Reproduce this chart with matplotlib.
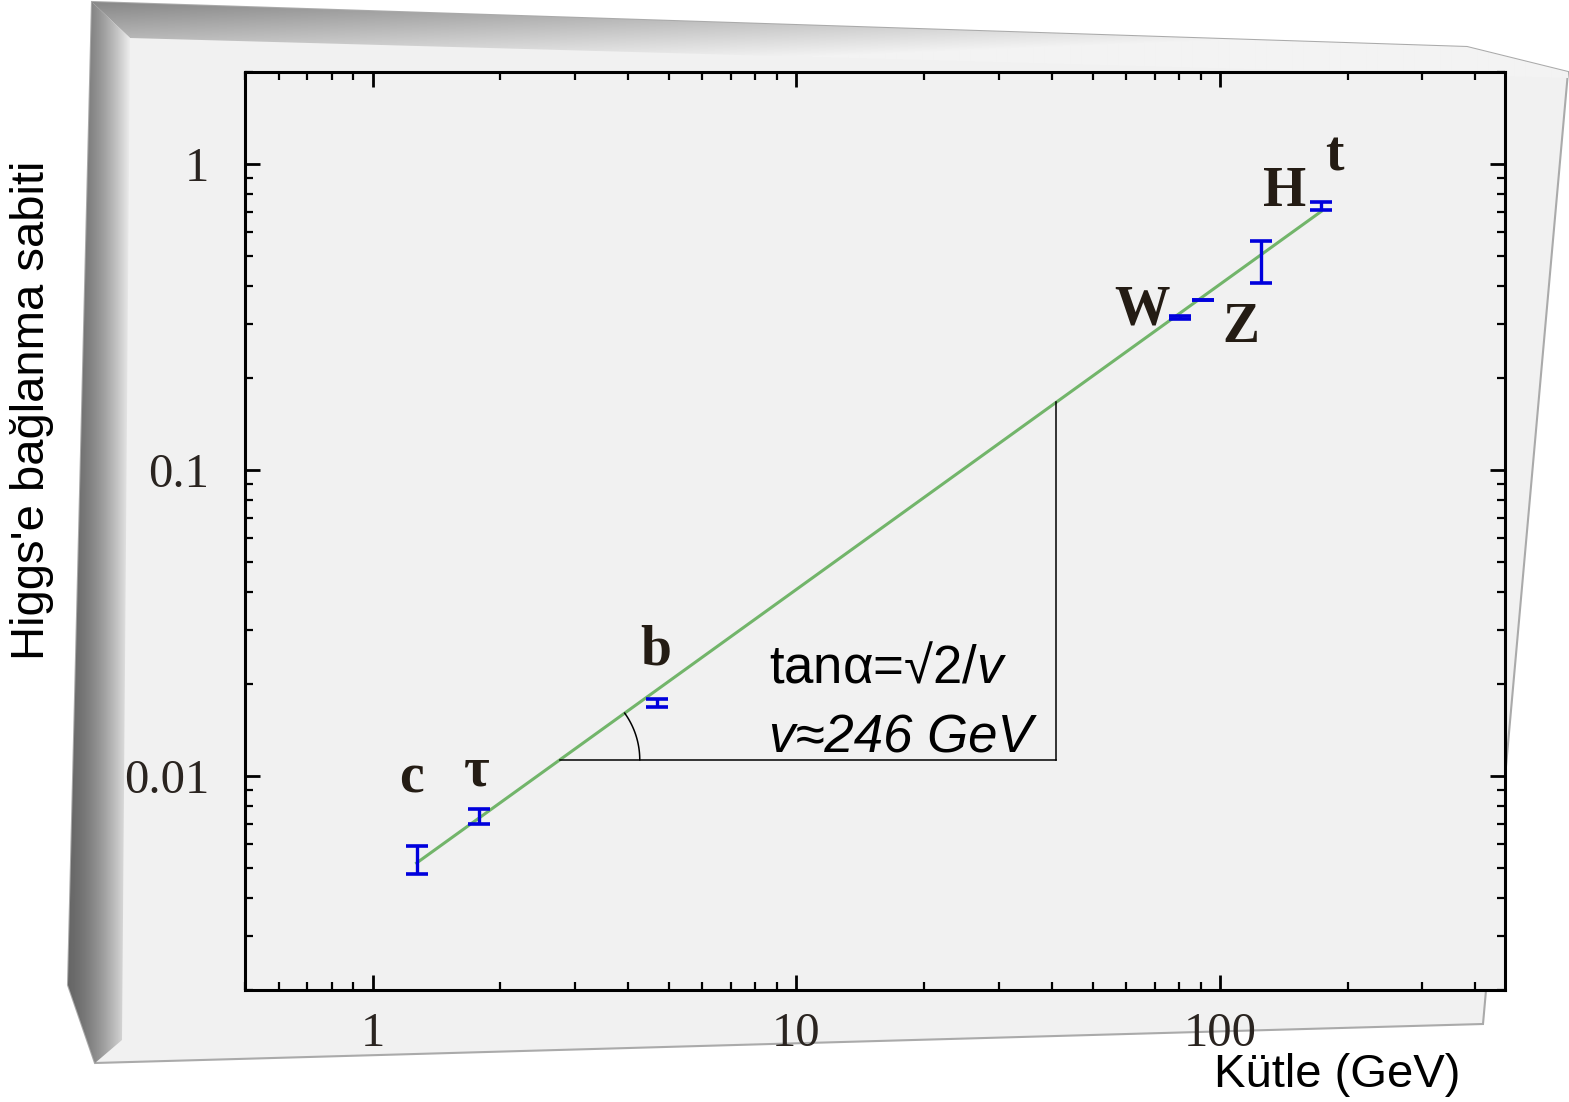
import numpy as np
import matplotlib
matplotlib.use('Agg')
import matplotlib.pyplot as plt
from matplotlib.patches import Polygon
from matplotlib.ticker import FixedLocator, FixedFormatter, LogLocator, NullFormatter

plt.rcParams['mathtext.fontset'] = 'custom'
plt.rcParams['mathtext.rm'] = 'Liberation Sans'
plt.rcParams['mathtext.it'] = 'Liberation Sans:italic'

# data
particles = ['c', 'τ', 'b', 'W', 'Z', 'H', 't']
mass = [1.27, 1.78, 4.7, 80.4, 91.2, 125.0, 173.0]
coupling = [0.0053, 0.0074, 0.0173, 0.315, 0.36, 0.48, 0.73]
err_lo = [0.0005, 0.0004, 0.0005, 0.003, 0.0, 0.07, 0.02]
err_hi = [0.0006, 0.0004, 0.0005, 0.003, 0.0, 0.08, 0.02]
# label offsets from each point, pixels
label_dx = [-5, -2, -2, -38, 38, 23, 13]
label_dy = [82, 45, 53, 7, -28, 70, 49]

fit_mass = [1.27, 173.0]
fit_coupling = [0.0052, 0.70]

tri_mass_right = 41.0
tri_level = 0.0113

xticks = [1, 10, 100]
xticklabels = ['1', '10', '100']
yticks = [0.01, 0.1, 1]
yticklabels = ['0.01', '0.1', '1']

W, H = 1569, 1102
fig = plt.figure(figsize=(W / 100, H / 100), dpi=100)
fig.patch.set_facecolor('white')

# ---- framed panel in the background
bg = fig.add_axes([0, 0, 1, 1], zorder=0)
bg.axis('off')
panel_xy = [(92, 2), (1467, 47), (1568, 72), (1483, 1024), (95, 1063), (68, 985)]
bg.add_patch(Polygon(panel_xy, closed=True, fc='#f1f1f1', ec='#aaaaaa', lw=1.5, zorder=1))

top_xy = [(92, 2), (1467, 47), (1568, 72), (1568, 78), (130, 38)]
ty = np.linspace(0, 1, 80)[:, None]
tx = np.linspace(0, 1, 200)[None, :]
top_grad = np.clip(0.52 + 0.40 * ty + 0.30 * tx, 0, 0.95)
im = bg.imshow(top_grad, cmap='gray', vmin=0, vmax=1, extent=(90, 1570, 80, 0),
               aspect='auto', interpolation='bilinear', zorder=2)
im.set_clip_path(Polygon(top_xy, closed=True, transform=bg.transData))

left_xy = [(92, 2), (130, 38), (122, 1040), (95, 1063), (68, 985)]
lx = np.linspace(0, 1, 80)[None, :]
left_grad = np.clip(0.40 + 0.55 * lx ** 1.6, 0, 0.94) * np.ones((10, 1))
im2 = bg.imshow(left_grad, cmap='gray', vmin=0, vmax=1, extent=(66, 132, 1070, 0),
                aspect='auto', interpolation='bilinear', zorder=2)
im2.set_clip_path(Polygon(left_xy, closed=True, transform=bg.transData))
bg.set_xlim(0, W)
bg.set_ylim(H, 0)

# ---- the chart
ax = fig.add_axes([245 / W, 1 - 990 / H, (1505 - 245) / W, (990 - 72) / H], zorder=2)
ax.set_facecolor('#f1f1f1')
ax.set_xscale('log')
ax.set_yscale('log')
ax.set_xlim(0.5, 470)
ax.set_ylim(0.002, 2)

ax.plot(fit_mass, fit_coupling, color='#72b56a', lw=2.2, zorder=2)

ax.errorbar(mass, coupling, yerr=[err_lo, err_hi], fmt='none', ecolor='#0000dd',
            elinewidth=2.4, capsize=8, capthick=2.6, zorder=3)

for name, m, g, dx, dy in zip(particles, mass, coupling, label_dx, label_dy):
    ax.annotate(name, (m, g), xytext=(dx, dy), textcoords='offset pixels',
                ha='center', va='center', fontsize=40, fontweight='bold',
                family='Liberation Serif', color='#241c14', zorder=4)

# slope triangle
lx_log = np.log10(fit_mass)
ly_log = np.log10(fit_coupling)
x_left = 10 ** np.interp(np.log10(tri_level), ly_log, lx_log)
y_top = 10 ** np.interp(np.log10(tri_mass_right), lx_log, ly_log)
ax.plot([x_left, tri_mass_right], [tri_level, tri_level], color='black', lw=1.1, zorder=2)
ax.plot([tri_mass_right, tri_mass_right], [tri_level, y_top], color='black', lw=1.1, zorder=2)

c0 = ax.transData.transform((x_left, tri_level))
c1 = ax.transData.transform((fit_mass[1], fit_coupling[1]))
ang = np.arctan2(c1[1] - c0[1], c1[0] - c0[0])
th = np.linspace(0, ang, 40)
arc = np.column_stack([c0[0] + 80 * np.cos(th), c0[1] + 80 * np.sin(th)])
arc_data = ax.transData.inverted().transform(arc)
ax.plot(arc_data[:, 0], arc_data[:, 1], color='black', lw=1.1, zorder=2)

ax.text(8.6, 0.0225, 'tanα=√2/$v$', fontsize=38, family='Liberation Sans',
        ha='left', va='center', color='black', zorder=4)
ax.text(8.6, 0.0133, 'v≈246 GeV', fontsize=38, family='Liberation Sans',
        style='italic', ha='left', va='center', color='black', zorder=4)

# axes styling
for s in ax.spines.values():
    s.set_linewidth(2.2)
ax.xaxis.set_major_locator(FixedLocator(xticks))
ax.xaxis.set_major_formatter(FixedFormatter(xticklabels))
ax.yaxis.set_major_locator(FixedLocator(yticks))
ax.yaxis.set_major_formatter(FixedFormatter(yticklabels))
ax.xaxis.set_minor_locator(LogLocator(base=10, subs=np.arange(2, 10)))
ax.yaxis.set_minor_locator(LogLocator(base=10, subs=np.arange(2, 10)))
ax.xaxis.set_minor_formatter(NullFormatter())
ax.yaxis.set_minor_formatter(NullFormatter())
ax.tick_params(which='both', direction='in', top=True, right=True)
ax.tick_params(which='major', length=11, width=2)
ax.tick_params(which='minor', length=6, width=1.6)
ax.tick_params(axis='y', which='major', pad=26)
ax.tick_params(axis='x', which='major', pad=16)
for lab in ax.get_xticklabels() + ax.get_yticklabels():
    lab.set_family('Liberation Serif')
    lab.set_fontsize(35)
    lab.set_color('#2a2420')

fig.text(32 / W, 1 - 410 / H, "Higgs'e bağlanma sabiti", rotation=90, fontsize=34,
         family='Liberation Sans', ha='center', va='center')
fig.text(1337 / W, 1 - 1075 / H, 'Kütle (GeV)', fontsize=34,
         family='Liberation Sans', ha='center', va='center')

fig.savefig('out.png', dpi=100, facecolor='white')
